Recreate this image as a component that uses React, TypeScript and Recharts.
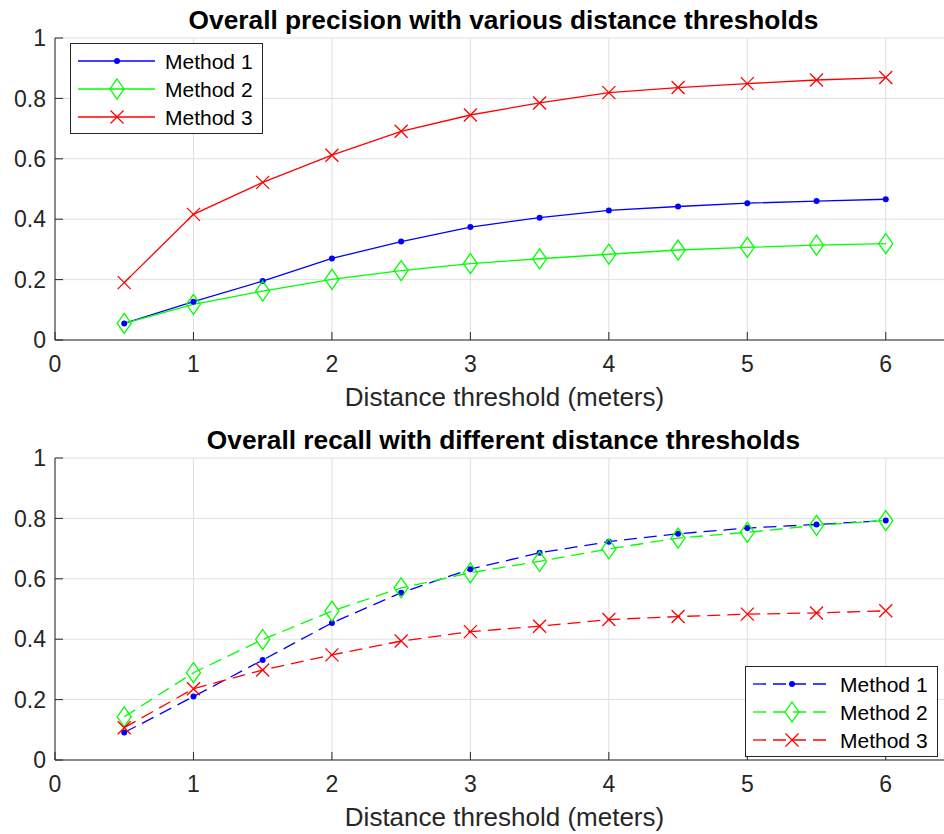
import { LineChart, Line, XAxis, YAxis, CartesianGrid } from 'recharts';

const thresholds = [0.5, 1, 1.5, 2, 2.5, 3, 3.5, 4, 4.5, 5, 5.5, 6];

const precisionM1 = [0.055, 0.127, 0.195, 0.27, 0.326, 0.374, 0.405, 0.429, 0.442, 0.453, 0.46, 0.466];
const precisionM2 = [0.055, 0.118, 0.162, 0.201, 0.23, 0.253, 0.269, 0.284, 0.298, 0.307, 0.314, 0.319];
const precisionM3 = [0.19, 0.416, 0.522, 0.612, 0.691, 0.745, 0.785, 0.819, 0.836, 0.849, 0.861, 0.869];

const recallM1 = [0.091, 0.21, 0.331, 0.454, 0.554, 0.632, 0.686, 0.723, 0.749, 0.768, 0.78, 0.793];
const recallM2 = [0.143, 0.289, 0.399, 0.493, 0.57, 0.62, 0.658, 0.699, 0.735, 0.754, 0.777, 0.793];
const recallM3 = [0.107, 0.236, 0.298, 0.348, 0.394, 0.425, 0.443, 0.465, 0.475, 0.483, 0.487, 0.494];

const xTicks = [0, 1, 2, 3, 4, 5, 6];
const yTicks = [0, 0.2, 0.4, 0.6, 0.8, 1];
const methodNames = ['Method 1', 'Method 2', 'Method 3'];

const COLORS = ['#0000ff', '#00ff00', '#ff0000'];
const MARKERS = ['point', 'diamond', 'cross'];
const FONT = '"Liberation Sans", Arial, Helvetica, sans-serif';
const AXIS = '#262626';

function Marker({ cx, cy, kind, color }: { cx: number; cy: number; kind: string; color: string }) {
    if (cx == null || cy == null) return null;
    if (kind === 'point') return <circle cx={cx} cy={cy} r={3} fill={color} />;
    if (kind === 'diamond')
        return (
            <path
                d={`M${cx},${cy - 10}L${cx + 7},${cy}L${cx},${cy + 10}L${cx - 7},${cy}Z`}
                fill="none"
                stroke={color}
                strokeWidth={1.3}
            />
        );
    const s = 6.5;
    return (
        <path
            d={`M${cx - s},${cy - s}L${cx + s},${cy + s}M${cx + s},${cy - s}L${cx - s},${cy + s}`}
            stroke={color}
            strokeWidth={1.3}
            fill="none"
        />
    );
}

interface PanelProps {
    top: number;
    title: string;
    series: number[][];
    dashed: boolean;
    legendX: number;
    legendY: number;
}

function Panel({ top, title, series, dashed, legendX, legendY }: PanelProps) {
    const data = thresholds.map((x, i) => ({
        x,
        m0: series[0][i],
        m1: series[1][i],
        m2: series[2][i]
    }));
    const dash = dashed ? '13 7' : undefined;

    return (
        <div style={{ position: 'absolute', left: 0, top, width: 944, height: 420, overflow: 'hidden' }}>
            <LineChart width={955} height={420} data={data} margin={{ top: 38, right: 0, left: 5, bottom: 0 }}>
                <CartesianGrid stroke="#dfdfdf" strokeWidth={1} />
                <XAxis
                    type="number"
                    dataKey="x"
                    domain={[0, 6.5]}
                    ticks={xTicks}
                    height={80}
                    tickSize={-8}
                    tickMargin={24}
                    axisLine={{ stroke: AXIS }}
                    tickLine={{ stroke: AXIS }}
                    tick={{ fill: AXIS, fontSize: 23, fontFamily: FONT }}
                />
                <YAxis
                    type="number"
                    domain={[0, 1]}
                    ticks={yTicks}
                    width={50}
                    tickSize={-8}
                    tickMargin={17}
                    axisLine={{ stroke: AXIS }}
                    tickLine={{ stroke: AXIS }}
                    tick={{ fill: AXIS, fontSize: 23, fontFamily: FONT }}
                />
                {[0, 1, 2].map(k => (
                    <Line
                        key={k}
                        type="linear"
                        dataKey={`m${k}`}
                        stroke={COLORS[k]}
                        strokeWidth={1.3}
                        strokeDasharray={dash}
                        isAnimationActive={false}
                        dot={(p: any) => (
                            <Marker key={`d${k}-${p.index}`} cx={p.cx} cy={p.cy} kind={MARKERS[k]} color={COLORS[k]} />
                        )}
                        activeDot={false}
                    />
                ))}
            </LineChart>
            <svg
                width={944}
                height={420}
                style={{ position: 'absolute', left: 0, top: 0, pointerEvents: 'none' }}
            >
                <text x={503.5} y={29} textAnchor="middle" fontSize={26.3} fontWeight="bold" fontFamily={FONT} fill="#000">
                    {title}
                </text>
                <text x={504.5} y={406} textAnchor="middle" fontSize={26} fontFamily={FONT} fill={AXIS}>
                    Distance threshold (meters)
                </text>
                <rect x={legendX + 0.5} y={legendY + 0.5} width={192} height={90} fill="#fff" stroke={AXIS} strokeWidth={1} />
                {methodNames.map((name, k) => {
                    const cy = legendY + 18 + k * 28;
                    return (
                        <g key={name}>
                            <line
                                x1={legendX + 8}
                                x2={legendX + 85}
                                y1={cy}
                                y2={cy}
                                stroke={COLORS[k]}
                                strokeWidth={1.3}
                                strokeDasharray={dash}
                            />
                            <Marker cx={legendX + 47} cy={cy} kind={MARKERS[k]} color={COLORS[k]} />
                            <text x={legendX + 95} y={cy + 7.5} fontSize={21} fontFamily={FONT} fill="#000">
                                {name}
                            </text>
                        </g>
                    );
                })}
            </svg>
        </div>
    );
}

export default function App() {
    return (
        <div style={{ position: 'absolute', left: 0, top: 0, width: 944, height: 834, overflow: 'hidden', background: '#fff' }}>
            <Panel
                top={0}
                title="Overall precision with various distance thresholds"
                series={[precisionM1, precisionM2, precisionM3]}
                dashed={false}
                legendX={70}
                legendY={43}
            />
            <Panel
                top={420}
                title="Overall recall with different distance thresholds"
                series={[recallM1, recallM2, recallM3]}
                dashed={true}
                legendX={745}
                legendY={246}
            />
        </div>
    );
}
